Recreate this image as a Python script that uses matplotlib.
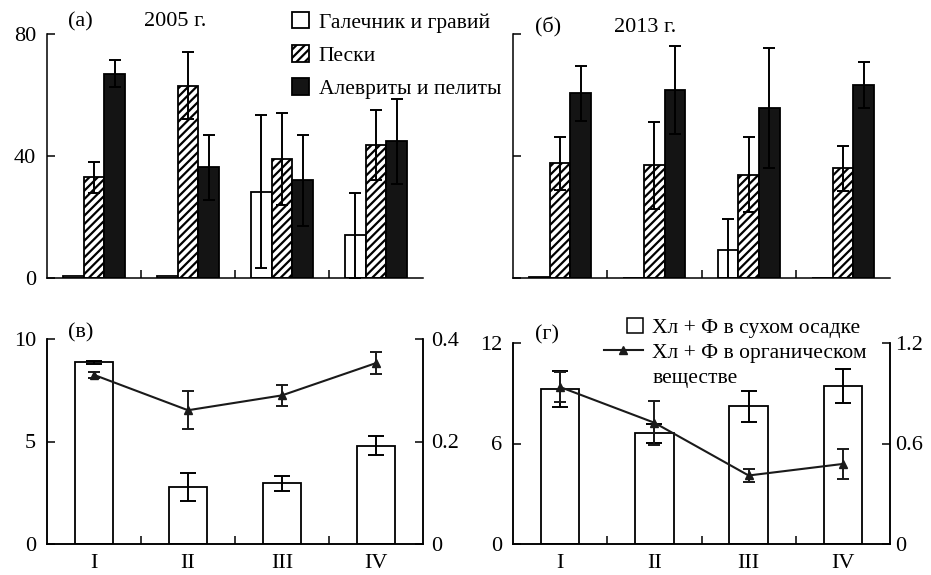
import numpy as np
import matplotlib
matplotlib.use("Agg")
import matplotlib.pyplot as plt
import matplotlib.patches as mpatches
from matplotlib.lines import Line2D
from matplotlib.legend_handler import HandlerPatch

plt.rcParams["font.family"] = ["Liberation Serif", "DejaVu Serif"]
plt.rcParams["hatch.linewidth"] = 1.6
plt.rcParams["axes.linewidth"] = 1.1

# x categories (stations)
stations = ["I", "II", "III", "IV"]

# (a) 2005, % of grain-size fractions
gravel_2005 = [0.5, 0.5, 28.3, 14.0]
gravel_2005_err = [np.nan, np.nan, 25.0, 14.0]
sand_2005 = [33.0, 63.0, 39.0, 43.6]
sand_2005_err = [5.0, 11.0, 15.0, 11.5]
silt_2005 = [67.0, 36.3, 32.0, 44.8]
silt_2005_err = [4.5, 10.7, 15.0, 14.0]

# (б) 2013
gravel_2013 = [0.3, 0.1, 9.2, 0.0]
gravel_2013_err = [np.nan, np.nan, 10.0, np.nan]
sand_2013 = [37.6, 37.0, 33.9, 36.0]
sand_2013_err = [8.6, 14.3, 12.2, 7.4]
silt_2013 = [60.6, 61.6, 55.7, 63.3]
silt_2013_err = [9.0, 14.4, 19.6, 7.5]

# (в) 2005 chlorophyll + phaeopigments
dry_2005 = [8.86, 2.78, 2.96, 4.80]
dry_2005_err = [0.08, 0.68, 0.36, 0.47]
org_2005 = [0.330, 0.261, 0.290, 0.353]
org_2005_err = [0.0065, 0.037, 0.020, 0.021]

# (г) 2013
dry_2013 = [9.25, 6.60, 8.23, 9.42]
dry_2013_err = [1.05, 0.55, 0.93, 1.00]
org_2013 = [0.937, 0.724, 0.409, 0.478]
org_2013_err = [0.09, 0.13, 0.04, 0.087]

W, H = 931, 575
FS = 16
LFS = 15.5
fig = plt.figure(figsize=(W / 100, H / 100), dpi=100)


def px_axes(left, right, top, bottom):
    return fig.add_axes([left / W, 1 - bottom / H, (right - left) / W, (bottom - top) / H])


LINE_C = "#1a1a1a"
x = np.arange(4) + 0.5


def style_x(ax, labels):
    ax.set_xlim(0, 4)
    ax.set_xticks(x)
    if labels:
        ax.set_xticklabels(stations, fontsize=FS)
    else:
        ax.set_xticklabels([])
    ax.tick_params(axis="x", which="major", length=0, pad=7)
    ax.set_xticks([1, 2, 3], minor=True)
    ax.tick_params(axis="x", which="minor", direction="in", length=6, width=1.1)
    ax.spines["top"].set_visible(False)


def grain_panel(ax, gravel, gravel_err, sand, sand_err, silt, silt_err, ticklabels):
    bw = 0.22
    ekw = dict(ecolor="black", elinewidth=1.4, capsize=4, capthick=1.4)
    ax.bar(x - bw, gravel, bw, color="white", edgecolor="black", linewidth=1.3,
           yerr=gravel_err, error_kw=ekw)
    ax.bar(x, sand, bw, color="white", edgecolor="black", linewidth=1.3, hatch="////",
           yerr=sand_err, error_kw=ekw)
    ax.bar(x + bw, silt, bw, color="#141414", edgecolor="black", linewidth=1.3,
           yerr=silt_err, error_kw=ekw)
    ax.set_ylim(0, 80)
    ax.set_yticks([0, 40, 80])
    if ticklabels:
        ax.set_yticklabels(["0", "40", "80"], fontsize=FS)
    else:
        ax.set_yticklabels([])
    ax.tick_params(axis="y", direction="in", length=6, width=1.1, pad=8)
    ax.spines["right"].set_visible(False)
    style_x(ax, False)


def pigment_panel(ax, dry, dry_err, org, org_err, lmax, rmax, lticks, rticks, rlabels, rpad):
    ax.bar(x, dry, 0.41, color="white", edgecolor="black", linewidth=1.3,
           yerr=dry_err, error_kw=dict(ecolor="black", elinewidth=1.4, capsize=6, capthick=1.4))
    ax.set_ylim(0, lmax)
    ax.set_yticks(lticks)
    ax.set_yticklabels([str(t) for t in lticks], fontsize=FS)
    ax.tick_params(axis="y", direction="in", length=6, width=1.1, pad=8)
    style_x(ax, True)
    ax2 = ax.twinx()
    ax2.errorbar(x, org, yerr=org_err, color=LINE_C, lw=1.5, marker="^", ms=6,
                 ecolor=LINE_C, elinewidth=1.4, capsize=4, capthick=1.4)
    ax2.set_ylim(0, rmax)
    ax2.set_yticks(rticks)
    ax2.set_yticklabels(rlabels, fontsize=FS)
    ax2.tick_params(axis="y", direction="in", length=6, width=1.1, pad=rpad)
    ax2.spines["top"].set_visible(False)
    return ax2


ax_a = px_axes(47, 423, 34, 278)
grain_panel(ax_a, gravel_2005, gravel_2005_err, sand_2005, sand_2005_err,
            silt_2005, silt_2005_err, True)
ax_b = px_axes(513, 890, 34, 278)
grain_panel(ax_b, gravel_2013, gravel_2013_err, sand_2013, sand_2013_err,
            silt_2013, silt_2013_err, False)

ax_c = px_axes(47, 423, 339, 544)
pigment_panel(ax_c, dry_2005, dry_2005_err, org_2005, org_2005_err,
              10, 0.4, [0, 5, 10], [0, 0.2, 0.4], ["0", "0.2", "0.4"], 6)
ax_d = px_axes(513, 890, 343, 544)
pigment_panel(ax_d, dry_2013, dry_2013_err, org_2013, org_2013_err,
              12, 1.2, [0, 6, 12], [0, 0.6, 1.2], ["0", "0.6", "1.2"], 4)

# panel letters and years
fig.text(68 / W, 1 - 22 / H, "(а)", fontsize=FS, va="center")
fig.text(144 / W, 1 - 22 / H, "2005 г.", fontsize=FS, va="center")
fig.text(535 / W, 1 - 27 / H, "(б)", fontsize=FS, va="center")
fig.text(614 / W, 1 - 27 / H, "2013 г.", fontsize=FS, va="center")
fig.text(68 / W, 1 - 333 / H, "(в)", fontsize=FS, va="center")
fig.text(535 / W, 1 - 335 / H, "(г)", fontsize=FS, va="center")

# legend for grain-size panels
grain_handles = [
    mpatches.Patch(facecolor="white", edgecolor="black", linewidth=1.3),
    mpatches.Patch(facecolor="white", edgecolor="black", linewidth=1.3, hatch="////"),
    mpatches.Patch(facecolor="#141414", edgecolor="black", linewidth=1.3),
]
grain_labels = ["Галечник и гравий", "Пески", "Алевриты и пелиты"]
fig.legend(grain_handles, grain_labels, loc="upper left",
           bbox_to_anchor=(292 / W, 1 - 12 / H), frameon=False, fontsize=LFS,
           handlelength=0.8, handleheight=0.8, handletextpad=0.45,
           labelspacing=0.58, borderpad=0, borderaxespad=0)


def right_square(legend, orig_handle, xdescent, ydescent, width, height, fontsize):
    s = height * 1.05
    return mpatches.Rectangle((-xdescent + width - s, -ydescent + (height - s) / 2), s, s)


# legend for pigment panels
pig_handles = [
    mpatches.Patch(facecolor="white", edgecolor="black", linewidth=1.1),
    Line2D([], [], color=LINE_C, lw=1.5, marker="^", ms=6),
    Line2D([], [], linestyle="none"),
]
pig_labels = ["Хл + Ф в сухом осадке", "Хл + Ф в органическом", "веществе"]
fig.legend(pig_handles, pig_labels, loc="upper left",
           bbox_to_anchor=(604 / W, 1 - 318 / H), frameon=False, fontsize=LFS,
           handlelength=1.8, handleheight=0.7, handletextpad=0.45, numpoints=1,
           labelspacing=0.22, borderpad=0, borderaxespad=0,
           handler_map={mpatches.Patch: HandlerPatch(patch_func=right_square)})

fig.savefig("out.png", dpi=100)
